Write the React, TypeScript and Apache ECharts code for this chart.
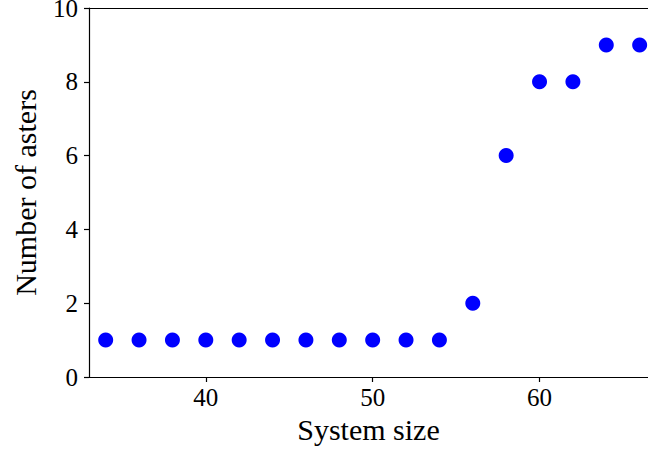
import React, { useEffect, useRef } from "react";
import * as echarts from "echarts";

// System size vs. number of asters observed
const systemSizes = [34, 36, 38, 40, 42, 44, 46, 48, 50, 52, 54, 56, 58, 60, 62, 64, 66];
const asterCounts = [1, 1, 1, 1, 1, 1, 1, 1, 1, 1, 1, 2, 6, 8, 8, 9, 9];
const xTicks = [40, 50, 60];
const yTicks = [0, 2, 4, 6, 8, 10];

const FONT = "'Liberation Serif', 'DejaVu Serif', serif";
const X_MIN = 33;
const X_MAX = 66.5;

export default function App() {
  const ref = useRef<HTMLDivElement>(null);

  useEffect(() => {
    if (!ref.current) return;
    const chart = echarts.init(ref.current, null, { renderer: "svg" });
    const points = systemSizes.map((s, i) => [s, asterCounts[i]]);
    chart.setOption({
      animation: false,
      backgroundColor: "#ffffff",
      grid: { left: 89, top: 8, right: 0, bottom: 75, outerBoundsMode: "none", containLabel: false },
      xAxis: [
        {
          type: "value",
          min: X_MIN,
          max: X_MAX,
          name: "System size",
          nameLocation: "middle",
          nameGap: 36,
          nameTextStyle: { fontFamily: FONT, fontSize: 30, color: "#000" },
          splitLine: { show: false },
          axisLine: { show: true, onZero: false, lineStyle: { color: "#000", width: 1.2 } },
          axisTick: {
            show: true,
            length: 5,
            lineStyle: { color: "#000", width: 1.2 },
            customValues: xTicks,
          },
          axisLabel: {
            fontFamily: FONT,
            fontSize: 25,
            color: "#000",
            margin: 8,
            customValues: xTicks,
          },
        },
        {
          // top frame line
          type: "value",
          position: "top",
          min: X_MIN,
          max: X_MAX,
          splitLine: { show: false },
          axisLine: { show: true, onZero: false, lineStyle: { color: "#000", width: 1.2 } },
          axisTick: { show: false },
          axisLabel: { show: false },
        },
      ],
      yAxis: {
        type: "value",
        min: 0,
        max: 10,
        interval: 2,
        name: "Number of asters",
        nameLocation: "middle",
        nameGap: 49,
        nameTextStyle: { fontFamily: FONT, fontSize: 30, color: "#000" },
        splitLine: { show: false },
        axisLine: { show: true, onZero: false, lineStyle: { color: "#000", width: 1.2 } },
        axisTick: { show: true, length: 5, lineStyle: { color: "#000", width: 1.2 } },
        axisLabel: {
          fontFamily: FONT,
          fontSize: 25,
          color: "#000",
          margin: 11,
          padding: [4, 0, 0, 0],
          customValues: yTicks,
        },
      },
      series: [
        {
          type: "scatter",
          xAxisIndex: 0,
          data: points,
          symbol: "circle",
          symbolSize: 15,
          itemStyle: { color: "#0000ff", opacity: 1 },
        },
      ],
    });
    return () => chart.dispose();
  }, []);

  return (
    <div
      ref={ref}
      style={{ position: "fixed", left: 0, top: 0, width: 648, height: 452, overflow: "hidden" }}
    />
  );
}
